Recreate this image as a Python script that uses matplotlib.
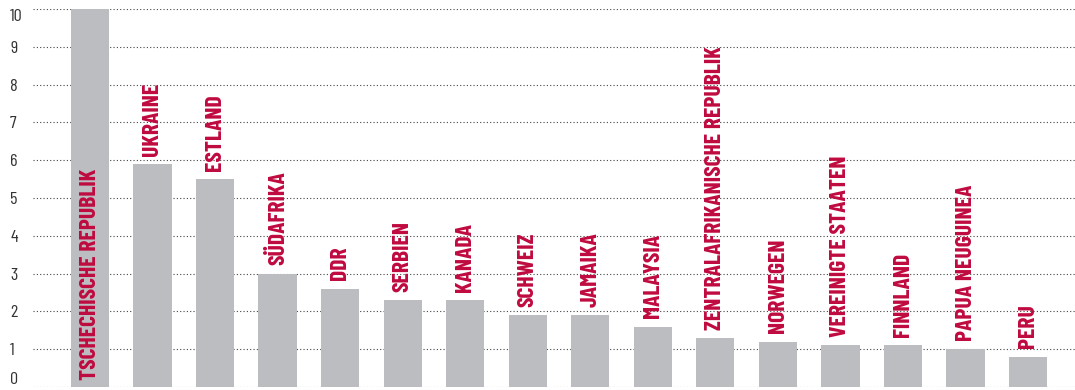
import matplotlib
matplotlib.use('Agg')
import matplotlib.pyplot as plt

# --- data ---
countries = [
    "TSCHECHISCHE REPUBLIK", "UKRAINE", "ESTLAND", "SÜDAFRIKA", "DDR",
    "SERBIEN", "KANADA", "SCHWEIZ", "JAMAIKA", "MALAYSIA",
    "ZENTRALAFRIKANISCHE REPUBLIK", "NORWEGEN", "VEREINIGTE STAATEN",
    "FINNLAND", "PAPUA NEUGUINEA", "PERU",
]
values = [10.0, 5.9, 5.5, 3.0, 2.6, 2.3, 2.3, 1.9, 1.9, 1.6,
          1.3, 1.2, 1.1, 1.1, 1.0, 0.8]
yticks = list(range(0, 11))

BAR = '#bcbdc0'
RED = '#bf0a3f'
FONT = ['Barlow Condensed', 'DejaVu Sans']

plt.rcParams['font.family'] = FONT

fig = plt.figure(figsize=(10.75, 3.9), dpi=100)
ax = fig.add_axes([33 / 1075, 3 / 390, 1 - 33 / 1075, 378 / 390])

x = list(range(len(countries)))
ax.bar(x, values, width=0.61, color=BAR, zorder=2)

ax.set_xlim(-0.91, 15.75)
ax.set_ylim(0, 10)
ax.set_yticks(yticks)
ax.set_yticklabels([str(t) for t in yticks])
ax.set_xticks([])
ax.yaxis.grid(True, linestyle=(0, (1, 2)), color='#444444', linewidth=0.8, zorder=0)
ax.set_axisbelow(True)
for s in ax.spines.values():
    s.set_visible(False)
ax.tick_params(axis='y', length=0, pad=16.5, labelsize=13, labelcolor='#333333')
ticklabels = ax.get_yticklabels()
for lab in ticklabels:
    lab.set_horizontalalignment('left')
# keep the end labels inside the figure, like the original
ticklabels[0].set_verticalalignment('bottom')
ticklabels[-1].set_verticalalignment('top')

for i, (name, v) in enumerate(zip(countries, values)):
    if i == 0:
        # label sits inside the tallest bar, from the bottom
        ax.annotate(name, (i, 0), xytext=(0, 5), textcoords='offset points',
                    rotation=90, ha='center', va='bottom', color=RED,
                    fontsize=17, fontweight='bold', zorder=3)
    else:
        ax.annotate(name, (i, v), xytext=(0, 6), textcoords='offset points',
                    rotation=90, ha='center', va='bottom', color=RED,
                    fontsize=17, fontweight='bold', zorder=3)

fig.savefig('out.png', dpi=100)
